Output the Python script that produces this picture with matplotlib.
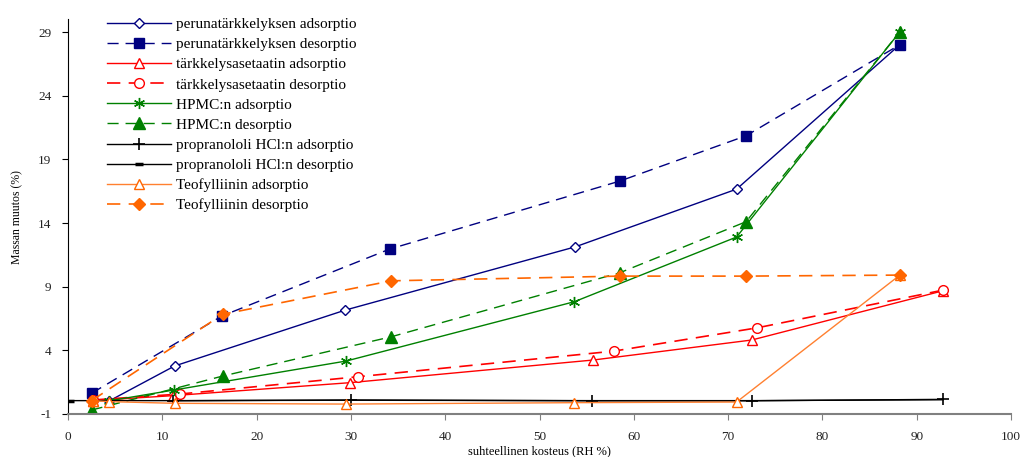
import matplotlib
matplotlib.use("Agg")
import matplotlib.pyplot as plt

plt.rcParams['font.family'] = ['Liberation Serif', 'DejaVu Serif']
plt.rcParams['axes.unicode_minus'] = False

# --- data ---
peruna_ads_x = [4.4, 11.3, 29.4, 53.8, 70.9, 88.2]
peruna_ads_y = [0.04, 2.77, 7.16, 12.13, 16.66, 28.0]
peruna_des_x = [2.5, 16.3, 34.1, 58.5, 71.9, 88.2]
peruna_des_y = [0.63, 6.69, 11.95, 17.29, 20.85, 28.0]

asetaatti_ads_x = [2.6, 11.1, 29.9, 55.7, 72.5, 92.8]
asetaatti_ads_y = [0.05, 0.44, 1.46, 3.24, 4.81, 8.68]
asetaatti_des_x = [2.6, 11.9, 30.8, 57.9, 73.1, 92.8]
asetaatti_des_y = [0.10, 0.57, 1.93, 3.94, 5.77, 8.73]

hpmc_ads_x = [4.4, 11.2, 29.5, 53.7, 70.9, 88.2]
hpmc_ads_y = [0.04, 0.88, 3.16, 7.82, 12.9, 29.0]
hpmc_des_x = [2.5, 16.4, 34.3, 58.5, 71.9, 88.2]
hpmc_des_y = [-0.69, 1.98, 5.07, 10.09, 14.1, 29.0]

propr_ads_x = [11.1, 30.0, 55.6, 72.5, 92.8]
propr_ads_y = [0.04, 0.10, 0.04, 0.04, 0.15]
propr_des_x = [0.2, 11.1, 30.0, 55.6, 72.5, 92.8]
propr_des_y = [0.05, 0.05, 0.08, 0.05, 0.05, 0.12]

teof_ads_x = [2.6, 4.4, 11.3, 29.5, 53.7, 70.9, 88.2]
teof_ads_y = [0.05, -0.03, -0.16, -0.22, -0.11, -0.06, 9.9]
teof_des_x = [2.5, 16.4, 34.3, 58.5, 71.9, 88.2]
teof_des_y = [0.05, 6.83, 9.46, 9.83, 9.83, 9.91]

labels = [
    "perunatärkkelyksen adsorptio",
    "perunatärkkelyksen desorptio",
    "tärkkelysasetaatin adsorptio",
    "tärkkelysasetaatin desorptio",
    "HPMC:n adsorptio",
    "HPMC:n desorptio",
    "propranololi HCl:n adsorptio",
    "propranololi HCl:n desorptio",
    "Teofylliinin adsorptio",
    "Teofylliinin desorptio",
]

x_ticks = [0, 10, 20, 30, 40, 50, 60, 70, 80, 90, 100]
y_ticks = [-1, 4, 9, 14, 19, 24, 29]
x_label = "suhteellinen kosteus (RH %)"
y_label = "Massan muutos (%)"

navy = "#000080"
red = "#FF0000"
green = "#008000"
orange_a = "#FF8030"
orange_d = "#FF6600"
dash = (0, (8, 5))

fig = plt.figure(figsize=(10.23, 4.57), dpi=100)
ax = fig.add_axes([68 / 1023, 43 / 457, (1011 - 68) / 1023, (414 - 19.3) / 457])

lines = []
lines += ax.plot(peruna_ads_x, peruna_ads_y, color=navy, lw=1.0, marker='D', ms=5,
                 mfc='white', mec=navy, mew=1.0, label=labels[0])
lines += ax.plot(peruna_des_x, peruna_des_y, color=navy, lw=1.0, ls=dash, marker='s', ms=7,
                 mfc=navy, mec=navy, label=labels[1])
lines += ax.plot(asetaatti_ads_x, asetaatti_ads_y, color=red, lw=1.0, marker='^', ms=7,
                 mfc='white', mec=red, mew=1.0, label=labels[2])
lines += ax.plot(asetaatti_des_x, asetaatti_des_y, color=red, lw=1.2, ls=dash, marker='o', ms=7,
                 mfc='white', mec=red, mew=1.0, label=labels[3])
lines += ax.plot(hpmc_ads_x, hpmc_ads_y, color=green, lw=1.0, marker=(6, 2, 0), ms=8,
                 mec=green, mew=1.0, label=labels[4])
lines += ax.plot(hpmc_des_x, hpmc_des_y, color=green, lw=1.0, ls=dash, marker='^', ms=9,
                 mfc=green, mec=green, label=labels[5])
lines += ax.plot(propr_ads_x, propr_ads_y, color='black', lw=1.0, marker='+', ms=9,
                 mew=1.2, label=labels[6])
lines += ax.plot(propr_des_x, propr_des_y, color='black', lw=1.0, marker='_', ms=6,
                 mew=2.5, markevery=[0], label=labels[7])
lines += ax.plot(teof_ads_x, teof_ads_y, color=orange_a, lw=1.0, marker='^', ms=7,
                 mfc='white', mec=orange_d, mew=1.0, label=labels[8])
lines += ax.plot(teof_des_x, teof_des_y, color=orange_d, lw=1.2, ls=dash, marker='D', ms=6,
                 mfc=orange_d, mec=orange_d, label=labels[9])

ax.set_xlim(0, 100)
ax.set_ylim(-1, 30)
ax.set_xticks(x_ticks)
ax.set_yticks(y_ticks)
ax.spines['top'].set_visible(False)
ax.spines['right'].set_visible(False)
ax.spines['left'].set_color('black')
ax.spines['bottom'].set_color('#808080')
ax.spines['bottom'].set_linewidth(1.5)
ax.tick_params(axis='x', direction='out', length=4, color='#808080', labelsize=9.5, pad=8)
ax.tick_params(axis='y', direction='out', length=4, color='black', labelsize=9.5, pad=8)
for t in ax.get_xticklabels() + ax.get_yticklabels():
    t.set_color('#222222')

ax.set_xlabel(x_label, fontsize=9)
ax.set_ylabel(y_label, fontsize=8.5)
ax.xaxis.set_label_coords(0.5, -0.08)
ax.yaxis.set_label_coords(-0.047, 0.5)

leg = ax.legend(handles=lines, loc='upper left', bbox_to_anchor=(0.035, 1.02),
                frameon=False, fontsize=11, handlelength=4.2, handletextpad=0.3,
                labelspacing=0.42, borderaxespad=0)

fig.savefig("out.png", dpi=100)
